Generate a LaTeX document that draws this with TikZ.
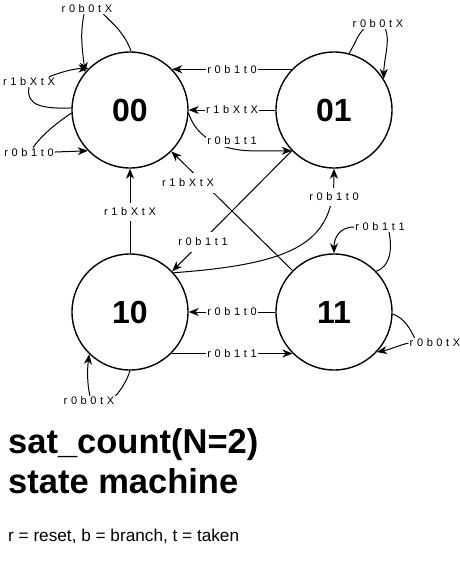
\documentclass[tikz,border=0pt]{standalone}
\usepackage{fontspec}
\setmainfont{Liberation Sans}
\newfontfamily\lblfont[LetterSpace=33]{Liberation Sans}
\usetikzlibrary{arrows.meta,calc}
\tikzset{
  state/.style  = {draw, circle, line width=1.4pt, minimum size=116pt, inner sep=0pt,
                   font=\fontsize{32}{36}\selectfont\bfseries},
  lbl/.style    = {inner xsep=1pt, inner ysep=1pt, font=\lblfont\fontsize{11}{13}\selectfont},
  onwire/.style = {lbl, fill=white, inner ysep=5pt},
  wire/.style   = {line width=1pt},
  arr/.style    = {wire, -{Stealth[length=10pt,width=8pt,inset=3pt]}},
  title/.style  = {inner sep=0pt, align=left, anchor=base west,
                   font=\fontsize{34.5}{40}\selectfont\bfseries},
  note/.style   = {inner sep=0pt, anchor=base west, font=\fontsize{17.2}{20}\selectfont},
}
\begin{document}
\begin{tikzpicture}[x=1pt,y=-1pt]
  \useasboundingbox (0,0) rectangle (460,574);
  \node[state] (s00) at (130,110) {00};
  \node[state] (s01) at (334,110) {01};
  \node[state] (s10) at (130,312) {10};
  \node[state] (s11) at (334,312) {11};
  % transitions between states
  \draw[arr] (s01.136) -- (s00.44);
  \draw[arr] (s01.west) -- (s00.east);
  \draw[arr] (s00.-3) .. controls (196,138) and (222,150) .. ($(s01.224)+(-42,0)$) -- (s01.224);
  \draw[arr] (s10.42) .. controls +(125,-9) and +(0,72) .. (s01.south);
  \draw[arr] (s11.135) -- (s00.-45);
  \draw[arr] (s10.north) -- (s00.south);
  \draw[arr] (s01.224) -- (s10.44);
  \draw[arr] (s11.west) -- (s10.east);
  \draw[arr] (s10.-45) -- (s11.-135);
  \node[onwire] (l4) at ($(s00.44)!.5!(s01.136)$) {r0b1t0};
  \node[onwire] (l5) at ($(s00.east)!.5!(s01.west)$) {r1bXtX};
  \node[onwire, inner ysep=2pt] (l6) at (232,141) {r0b1t1};
  \node[onwire] (l8) at (334,197) {r0b1t0};
  \node[onwire, inner ysep=6pt] (l9) at (188,183) {r1bXtX};
  \node[onwire] (l10) at (130,212) {r1bXtX};
  \node[onwire, inner ysep=6pt] (l11) at (203,242) {r0b1t1};
  \node[onwire] (l13) at ($(s10.east)!.5!(s11.west)$) {r0b1t0};
  \node[onwire] (l14) at ($(s10.-45)!.5!(s11.-135)$) {r0b1t1};
  % self loops
  \node[lbl] (l1) at (87,9) {r0b0tX};
  \node[lbl] (l2) at (29,82) {r1bXtX};
  \node[lbl] (l3) at (29,153) {r0b1t0};
  \node[lbl] (l7) at (378,24) {r0b0tX};
  \node[lbl] (l12) at (380,227) {r0b1t1};
  \node[lbl] (l15) at (435,343) {r0b0tX};
  \node[lbl] (l16) at (89,401) {r0b0tX};
  \draw[wire] (s00.89) .. controls +(-6,-18) and +(8,8) .. ([xshift=-10pt]l1.south east);
  \draw[arr] ([xshift=-3pt]l1.south) .. controls +(-4,20) and +(-3,-25) .. (s00.140);
  \draw[wire] (s00.178) .. controls +(-30,1) and +(-3,18) .. (l2.south);
  \draw[arr] ([xshift=-7pt]l2.north east) .. controls +(10,-4) and +(-15,0) .. (s00.135);
  \draw[wire] (s00.183) .. controls +(-15,10) and +(8,-12) .. ([xshift=4pt]l3.north);
  \draw[arr] (l3) -- (s00.224);
  \draw[wire] (s01.75) .. controls +(6,-10) and +(-6,6) .. ([xshift=12pt]l7.south west);
  \draw[arr] ([xshift=-19pt]l7.south east) .. controls +(5,12) and +(0,-20) .. (s01.32);
  \draw[wire] (s11.44) .. controls +(15,-5) and +(3,15) .. (l12.-30);
  \draw[arr] (l12.west) .. controls +(-15,0) and +(0,-15) .. (s11.north);
  \draw[wire] (s11.-2) .. controls +(12,4) and +(-4,-8) .. ([xshift=6pt]l15.north west);
  \draw[arr] (l15.west) .. controls +(-12,3) and +(15,-3) .. (s11.-43);
  \draw[wire] (s10.-90) .. controls +(-3,10) and +(5,-5) .. (l16.north east);
  \draw[arr] ([xshift=1pt]l16.north) .. controls +(-3,-12) and +(-2,15) .. (s10.-134);
  \node[title] (ttl) at (8,493) {sat\_count(N=2)\\state machine};
  \node[note] (key) at (8,541) {r = reset, b = branch, t = taken};
\end{tikzpicture}
\end{document}
